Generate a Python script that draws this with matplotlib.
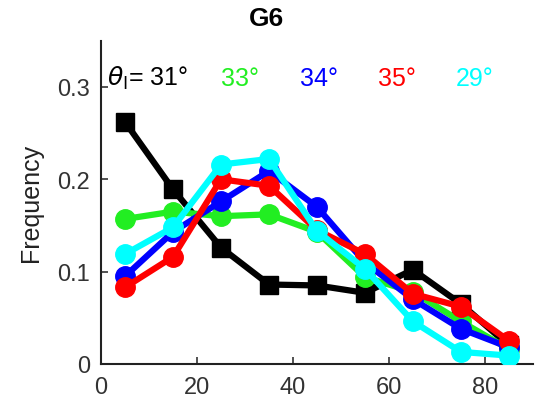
import numpy as np
import matplotlib.pyplot as plt

plt.rcParams['font.family'] = ['Liberation Sans', 'DejaVu Sans']
plt.rcParams['mathtext.fontset'] = 'dejavusans'

# bin centres (degrees)
angles = [5, 15, 25, 35, 45, 55, 65, 75, 85]

freq_31 = [0.262, 0.189, 0.126, 0.086, 0.085, 0.077, 0.102, 0.065, 0.020]
freq_33 = [0.157, 0.165, 0.160, 0.162, 0.143, 0.094, 0.078, 0.046, 0.016]
freq_34 = [0.095, 0.143, 0.176, 0.209, 0.170, 0.110, 0.070, 0.038, 0.018]
freq_35 = [0.083, 0.116, 0.200, 0.193, 0.145, 0.119, 0.076, 0.062, 0.025]
freq_29 = [0.119, 0.148, 0.216, 0.222, 0.144, 0.103, 0.046, 0.013, 0.009]

labels = [r'$\theta_{\rm I}$= 31°', '33°', '34°', '35°', '29°']
label_x = [1.2, 25, 41.5, 57.7, 74]
colors = ['black', '#22ee22', '#0000ff', '#ff0000', '#00ffff']

fig = plt.figure(figsize=(5.35, 4.1), dpi=100)
ax = fig.add_axes([0.189, 0.110, 0.807, 0.788])

ax.plot(angles, freq_31, '-s', color=colors[0], lw=4.5, ms=13, zorder=2)
for vals, c in zip([freq_33, freq_34, freq_35, freq_29], colors[1:]):
    ax.plot(angles, vals, '-o', color=c, lw=4.5, ms=14, zorder=3)

for t, x, c in zip(labels, label_x, colors):
    ax.text(x, 0.31, t, color=c, fontsize=18, va='center', ha='left')

ax.set_xlim(0, 90)
ax.set_ylim(0, 0.35)
ax.set_xticks([0, 20, 40, 60, 80])
ax.set_yticks([0, 0.1, 0.2, 0.3])
ax.set_yticklabels(['0', '0.1', '0.2', '0.3'])
ax.tick_params(direction='in', labelsize=17, colors='#333333', length=5, width=1.2)
ax.tick_params(axis='x', pad=9)
ax.tick_params(axis='y', pad=8)
for s in ['top', 'right']:
    ax.spines[s].set_visible(False)
for s in ['left', 'bottom']:
    ax.spines[s].set_linewidth(1.5)
    ax.spines[s].set_color('#222222')
ax.set_ylabel('Frequency', fontsize=18, color='#222222', labelpad=10)
fig.text(266 / 535, 1 - 19 / 410, 'G6', fontsize=19, fontweight='bold',
         ha='center', va='center')

fig.savefig('out.png', dpi=100)
